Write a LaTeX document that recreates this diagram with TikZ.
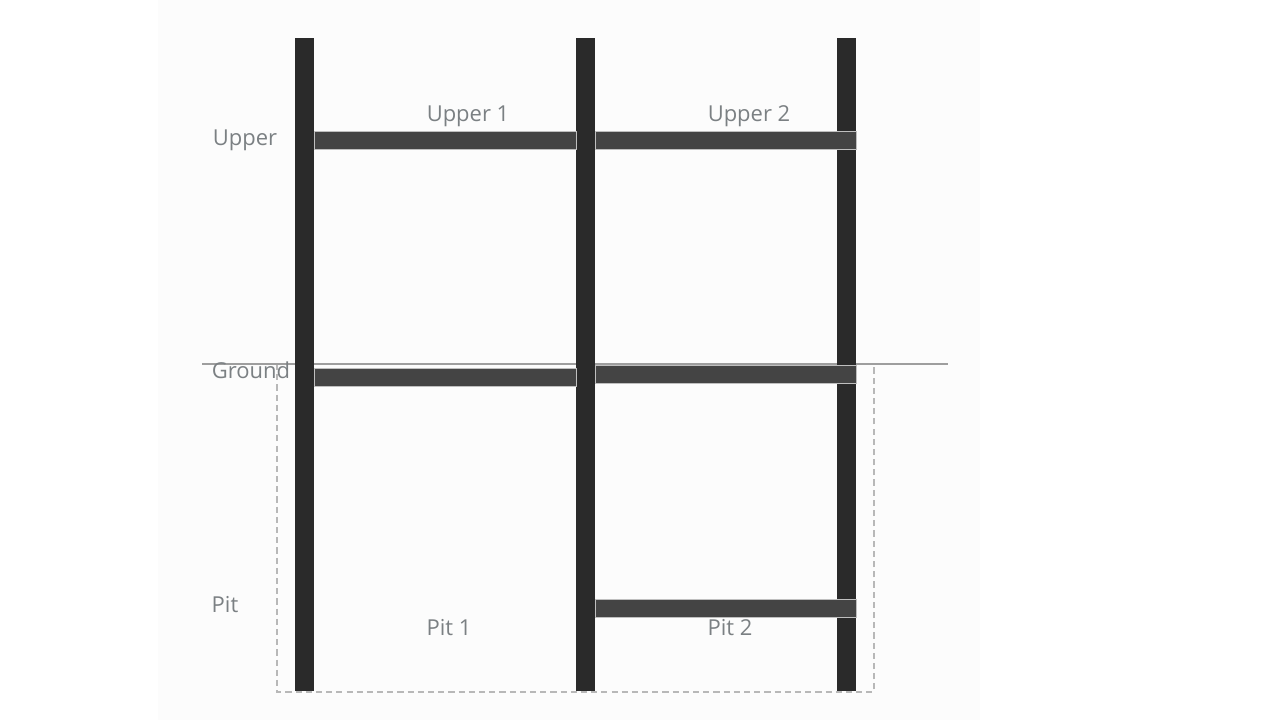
\documentclass[tikz,border=0pt]{standalone}
\usepackage{fontspec}
\setmainfont{Open Sans}
\definecolor{polecol}{HTML}{2A2A2A}
\definecolor{beamcol}{HTML}{444444}
\definecolor{txtcol}{HTML}{7B8083}
\begin{document}
\begin{tikzpicture}[
    pole/.style={fill=polecol},
    beam/.style={fill=beamcol,draw=black!25,line width=.3pt},
    lbl/.style={text=txtcol,font=\fontsize{12.5}{15}\selectfont,inner sep=0pt},
    edge/.style={draw=black!28,dashed,dash pattern=on 3.5pt off 2.3pt,line width=.6pt}]
        \useasboundingbox (0,0) rectangle (25.6,14.4);
        \fill[black!1.2] (3.16,0) rectangle (19.6,14.4);
        % the pit outline and the ground line
        \draw[edge] (5.54,7.12) -- (5.54,0.56) -- (17.48,0.56) -- (17.48,7.12);
        \draw[black!38,line width=1.1pt] (4.04,7.12) -- (18.96,7.12);
        % poles
        \fill[pole] (5.90,0.58) rectangle (6.28,13.64);
        \fill[pole] (11.52,0.58) rectangle (11.90,13.64);
        \fill[pole] (16.74,0.58) rectangle (17.12,13.64);
        % beams
        \draw[beam] (6.28,11.42) rectangle (11.52,11.78);
        \draw[beam] (11.90,11.42) rectangle (17.12,11.78);
        \draw[beam] (6.28,6.68) rectangle (11.52,7.04);
        \draw[beam] (11.90,6.74) rectangle (17.12,7.10);
        \draw[beam] (11.90,2.06) rectangle (17.12,2.42);
        % write labels
        \node[lbl,name=upper] at (4.90,11.60) {Upper};
        \node[lbl,name=ground] at (5.02,7.00) {Ground};
        \node[lbl,name=pit] at (4.50,2.30) {Pit};
        \node[lbl,name=up1] at (9.36,12.08) {Upper 1};
        \node[lbl,name=up2] at (14.98,12.08) {Upper 2};
        \node[lbl,name=pit1] at (8.98,1.84) {Pit 1};
        \node[lbl,name=pit2] at (14.60,1.84) {Pit 2};
\end{tikzpicture}
\end{document}
